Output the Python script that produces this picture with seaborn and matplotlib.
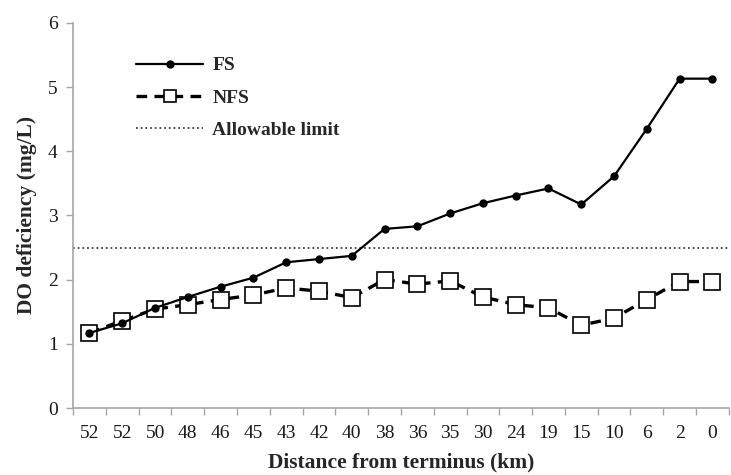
import numpy as np
import pandas as pd
import matplotlib
matplotlib.use("Agg")
import matplotlib.pyplot as plt
from matplotlib.ticker import FixedLocator
import seaborn as sns

# ── Data ───────────────────────────────────────────────
distance = ["52", "52", "50", "48", "46", "45", "43", "42", "40", "38",
            "36", "35", "30", "24", "19", "15", "10", "6", "2", "0"]
fs = [1.17, 1.32, 1.56, 1.73, 1.89, 2.03, 2.27, 2.32, 2.37, 2.79,
      2.83, 3.03, 3.19, 3.31, 3.42, 3.17, 3.61, 4.35, 5.13, 5.13]
nfs = [1.17, 1.36, 1.54, 1.61, 1.69, 1.76, 1.87, 1.82, 1.72, 2.00,
       1.93, 1.98, 1.73, 1.61, 1.56, 1.29, 1.40, 1.69, 1.97, 1.97]
allowable_limit = 2.5

df = pd.DataFrame({"pos": np.arange(len(distance)), "FS": fs, "NFS": nfs})

sns.set_theme(style="white")
plt.rcParams["font.family"] = ["Liberation Serif", "DejaVu Serif"]

fig = plt.figure(figsize=(7.31, 4.75), dpi=100)
ax = fig.add_axes([0.100, 0.141, 0.897, 0.811])

axis_grey = "#a6a6a6"

# limit line
ax.axhline(allowable_limit, color="#404040", lw=1.3, ls=(0, (1, 1.6)),
           label="Allowable limit")

# NFS first so FS sits on top
sns.lineplot(data=df, x="pos", y="NFS", ax=ax, color="black", lw=2.4,
             dashes=False, marker="s", markersize=12, markerfacecolor="white",
             markeredgecolor="black", markeredgewidth=1.2, label="NFS")
ax.lines[-1].set_linestyle((0, (3.2, 2.2)))
sns.lineplot(data=df, x="pos", y="FS", ax=ax, color="black", lw=1.6,
             marker="o", markersize=6, markeredgewidth=0, label="FS")

ax.set_xlim(-0.5, len(distance) - 0.5)
ax.set_ylim(0, 6)
ax.set_yticks(range(0, 7))
ax.set_xticks(df["pos"])
ax.set_xticklabels(distance)
ax.xaxis.set_minor_locator(FixedLocator(np.arange(-0.5, len(distance), 1.0)))
ax.tick_params(axis="x", which="major", length=0, pad=12, labelsize=14,
               colors="#1a1a1a")
ax.tick_params(axis="x", which="minor", length=5, width=1, color=axis_grey,
               bottom=True)
ax.tick_params(axis="y", which="major", length=5, width=1, color=axis_grey,
               left=True, labelsize=14, labelcolor="#1a1a1a", pad=6)

for side in ["top", "right"]:
    ax.spines[side].set_visible(False)
for side in ["left", "bottom"]:
    ax.spines[side].set_color(axis_grey)
    ax.spines[side].set_linewidth(1.2)

ax.set_xlabel("Distance from terminus (km)", fontsize=15.5,
              fontweight="bold", labelpad=8)
ax.set_ylabel("DO deficiency (mg/L)", fontsize=15.5, fontweight="bold",
              labelpad=8)

handles, labels = ax.get_legend_handles_labels()
order = [labels.index(n) for n in ["FS", "NFS", "Allowable limit"]]
leg = ax.legend([handles[i] for i in order], [labels[i] for i in order],
                loc="upper left", bbox_to_anchor=(0.07, 0.957), frameon=False,
                handlelength=3.4, handletextpad=0.5, labelspacing=0.76,
                prop={"weight": "bold", "size": 14})
leg.legend_handles[1].set_markersize(8)

fig.savefig("out.png", dpi=100)
